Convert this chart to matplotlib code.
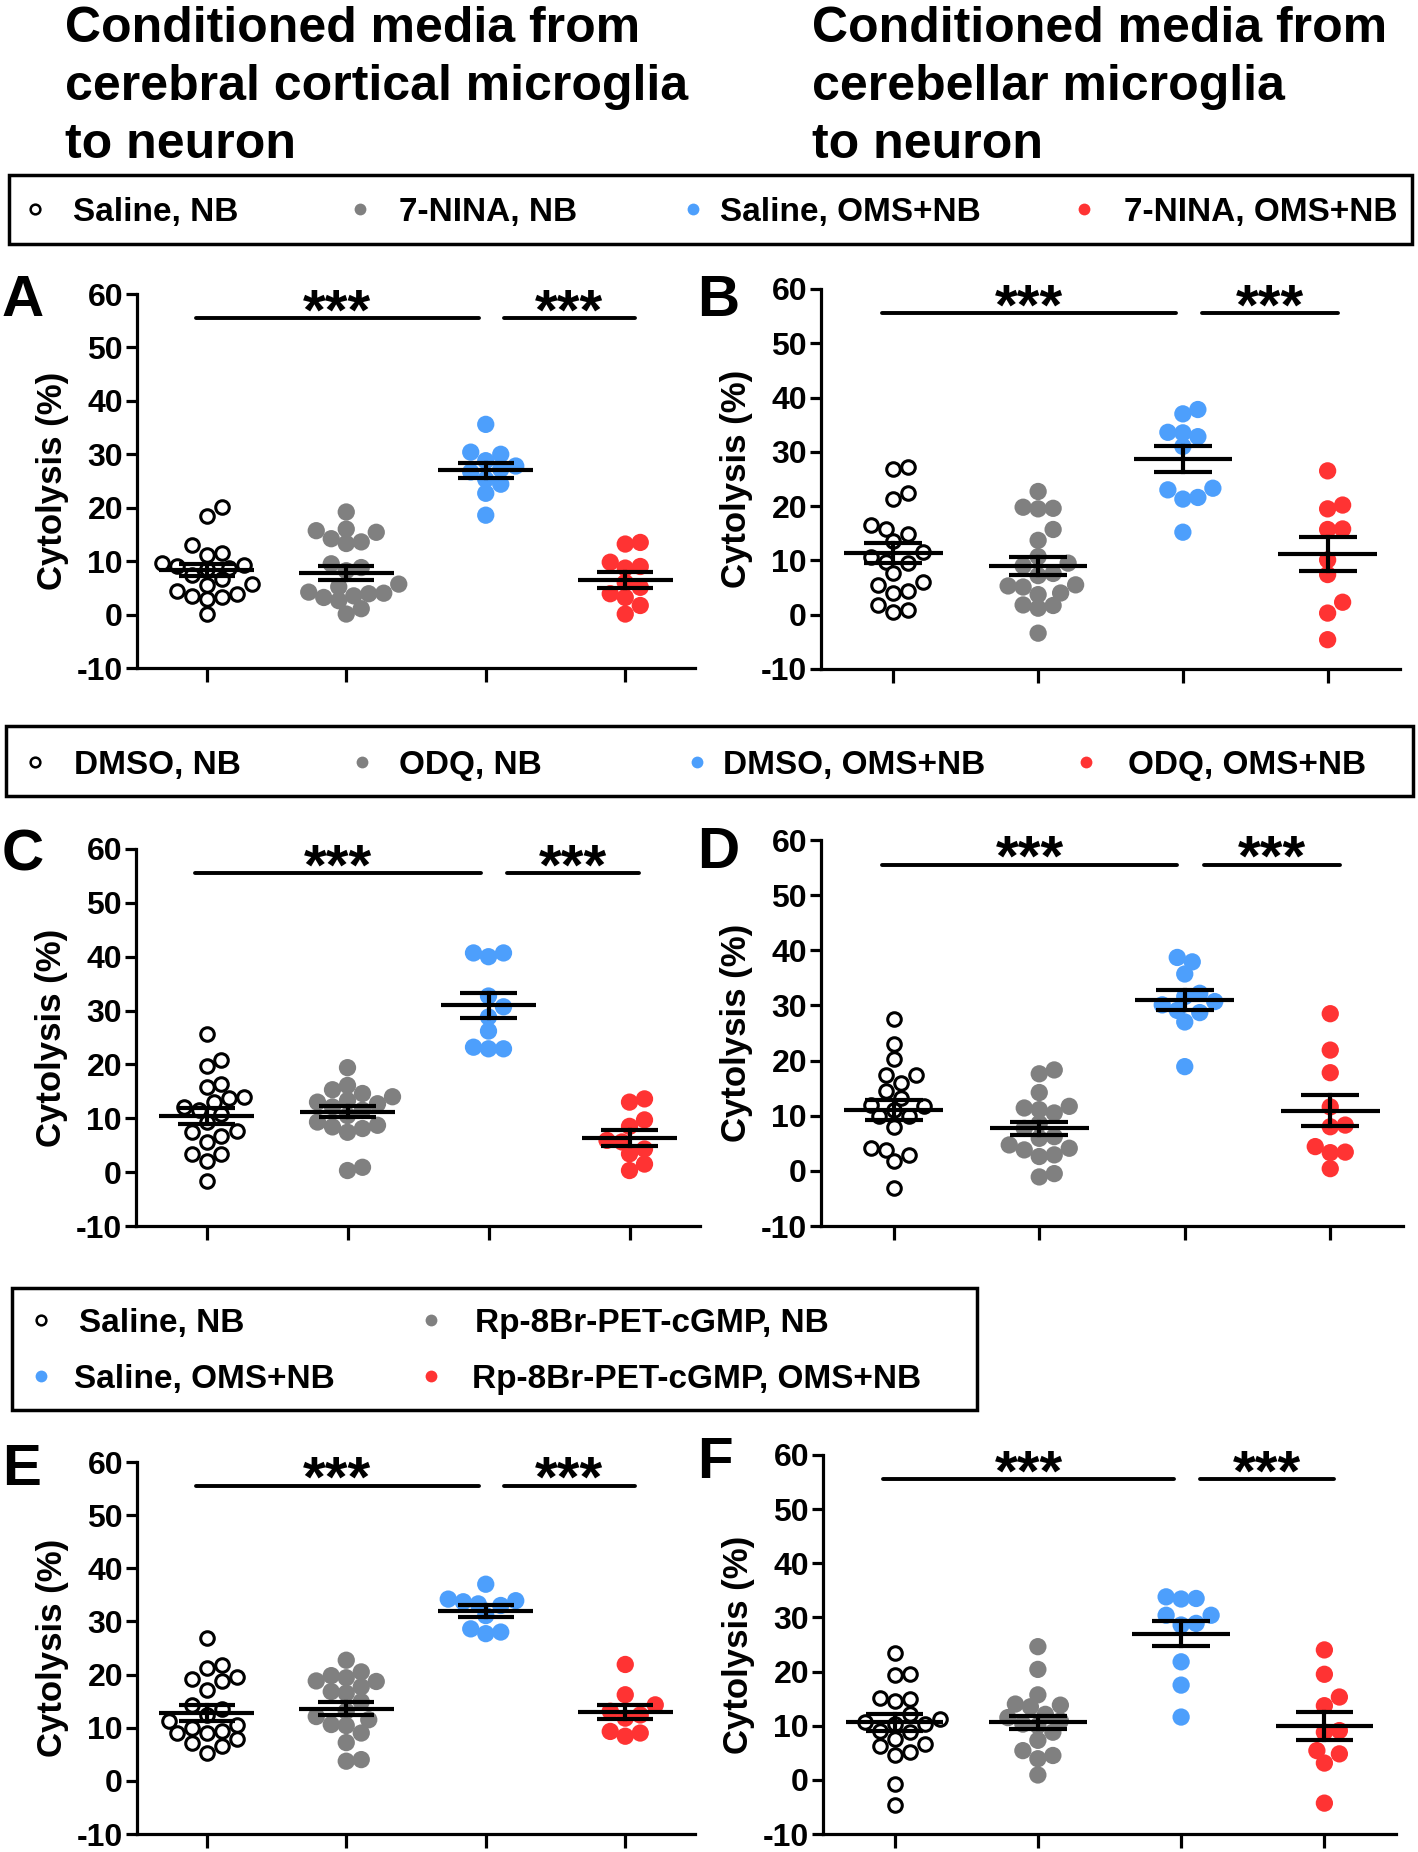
import numpy as np
import matplotlib
matplotlib.use('Agg')
import matplotlib.pyplot as plt
import matplotlib.font_manager as fm
from matplotlib.lines import Line2D
from matplotlib.patches import Rectangle

plt.rcParams['axes.unicode_minus'] = False

# ---- data (Cytolysis %) ----
a_saline_nb = [20.2, 18.4, 13.1, 11.5, 11.1, 9.6, 9.3, 9.0, 8.8, 8.5, 7.5, 6.6, 5.7, 5.5, 4.5, 3.8, 3.5, 3.2, 2.9, 0.1]
a_nina_nb = [19.2, 16.0, 15.7, 15.4, 14.2, 13.6, 13.3, 9.5, 8.8, 8.2, 5.7, 5.2, 4.2, 4.0, 3.9, 3.5, 3.2, 2.6, 1.1, 0.1]
a_saline_oms = [35.6, 30.4, 30.0, 28.8, 27.8, 27.2, 26.7, 25.3, 24.4, 22.7, 18.6]
a_nina_oms = [13.5, 13.2, 9.8, 9.0, 8.7, 6.0, 5.1, 3.9, 3.2, 1.7, 0.1]
a_mean = [8.4, 7.8, 27.0, 6.5]
a_sem = [1.1, 1.3, 1.45, 1.5]

b_saline_nb = [27.2, 26.8, 22.5, 21.3, 16.6, 15.7, 14.9, 13.6, 11.5, 10.7, 9.8, 9.5, 7.7, 6.1, 5.5, 4.3, 4.0, 1.7, 0.9, 0.5]
b_nina_nb = [22.7, 19.8, 19.6, 19.5, 15.7, 13.7, 10.7, 9.5, 9.0, 7.6, 7.2, 5.5, 5.3, 5.1, 4.0, 3.7, 1.8, 1.7, 1.2, -3.4]
b_saline_oms = [37.8, 37.0, 33.6, 33.5, 32.8, 31.0, 23.3, 23.0, 21.6, 21.3, 15.2]
b_nina_oms = [26.5, 20.2, 19.5, 15.8, 15.7, 10.1, 7.4, 2.3, 0.3, -4.6]
b_mean = [11.4, 9.0, 28.7, 11.2]
b_sem = [1.9, 1.6, 2.45, 3.1]

c_dmso_nb = [25.7, 20.8, 19.8, 16.4, 15.8, 13.9, 13.8, 13.0, 12.1, 11.5, 10.8, 9.3, 7.7, 7.4, 6.8, 5.6, 3.4, 3.4, 2.0, -1.7]
c_odq_nb = [19.4, 16.1, 15.3, 14.6, 14.0, 13.3, 13.0, 12.7, 12.1, 11.5, 10.5, 9.3, 8.7, 8.4, 8.1, 7.4, 0.9, 0.3]
c_dmso_oms = [40.7, 40.7, 40.0, 32.7, 30.7, 28.8, 26.2, 23.2, 22.9, 22.9]
c_odq_oms = [13.6, 13.0, 9.7, 8.5, 5.9, 5.6, 4.3, 3.4, 1.5, 0.3]
c_mean = [10.4, 11.2, 31.0, 6.3]
c_sem = [1.45, 1.0, 2.3, 1.45]

d_dmso_nb = [27.5, 23.0, 20.3, 17.4, 17.4, 15.9, 14.4, 13.2, 12.0, 11.7, 11.1, 9.9, 9.9, 8.0, 4.1, 3.8, 2.9, 1.7, -3.1]
d_odq_nb = [18.3, 17.6, 14.2, 11.7, 11.4, 11.1, 10.5, 8.6, 7.7, 6.2, 5.9, 4.7, 4.1, 3.8, 2.9, 2.6, -0.5, -1.1]
d_dmso_oms = [38.7, 37.9, 35.7, 32.2, 31.6, 30.7, 30.1, 29.1, 28.7, 27.0, 18.9]
d_odq_oms = [28.5, 21.9, 17.8, 11.6, 8.3, 8.0, 4.4, 3.4, 3.3, 0.4]
d_mean = [11.0, 7.7, 31.0, 10.9]
d_sem = [1.8, 1.2, 1.8, 2.85]

e_saline_nb = [26.9, 21.8, 21.2, 19.6, 19.2, 18.8, 17.1, 14.3, 13.6, 12.4, 11.2, 10.6, 10.0, 9.3, 9.0, 9.0, 7.8, 7.2, 6.5, 5.3]
e_rp_nb = [22.7, 20.5, 19.8, 19.4, 18.8, 18.7, 17.7, 16.8, 16.5, 14.9, 13.1, 12.1, 11.5, 10.6, 10.4, 9.0, 7.2, 4.0, 3.7]
e_saline_oms = [37.0, 34.2, 33.9, 33.7, 33.3, 33.0, 31.1, 28.6, 28.0, 27.7]
e_rp_oms = [21.9, 16.2, 14.3, 13.1, 12.4, 11.8, 9.3, 9.0, 8.4]
e_mean = [12.8, 13.6, 31.9, 12.9]
e_sem = [1.45, 1.3, 1.1, 1.3]

f_saline_nb = [23.4, 19.5, 19.3, 15.2, 14.9, 14.6, 12.1, 11.2, 10.6, 10.4, 10.3, 9.1, 8.8, 7.6, 6.6, 6.3, 5.1, 4.5, -0.7, -4.6]
f_rp_nb = [24.6, 20.4, 15.7, 14.0, 13.8, 13.5, 12.1, 11.5, 10.9, 10.3, 10.0, 8.8, 7.3, 5.4, 4.5, 3.9, 0.9]
f_saline_oms = [33.8, 33.5, 33.4, 30.4, 30.4, 28.9, 28.6, 21.8, 17.5, 11.6]
f_rp_oms = [24.0, 19.5, 15.3, 13.7, 9.1, 8.8, 5.4, 4.8, 3.1, -4.3]
f_mean = [10.6, 10.6, 27.0, 9.9]
f_sem = [1.5, 1.2, 2.35, 2.55]

legend1 = ['Saline, NB', '7-NINA, NB', 'Saline, OMS+NB', '7-NINA, OMS+NB']
legend2 = ['DMSO, NB', 'ODQ, NB', 'DMSO, OMS+NB', 'ODQ, OMS+NB']
legend3 = ['Saline, NB', 'Rp-8Br-PET-cGMP, NB', 'Saline, OMS+NB', 'Rp-8Br-PET-cGMP, OMS+NB']
title_left = ['Conditioned media from', 'cerebral cortical microglia', 'to neuron']
title_right = ['Conditioned media from', 'cerebellar microglia', 'to neuron']
yticks = [-10, 0, 10, 20, 30, 40, 50, 60]

GRAY = '#808080'
BLUE = '#4d9ffc'
RED = '#ff3333'


def pick_font(names):
    for n in names:
        try:
            fm.findfont(fm.FontProperties(family=n), fallback_to_default=False)
            return n
        except Exception:
            pass
    return 'DejaVu Sans'


FONT = pick_font(['Liberation Sans Narrow', 'Liberation Sans', 'Arimo', 'DejaVu Sans'])
WIDE = pick_font(['Liberation Sans', 'Arimo', 'DejaVu Sans'])

W, H = 1418, 1852
fig = plt.figure(figsize=(W / 100, H / 100), dpi=100)


def fx(x):
    return x / W


def fy(y):
    return 1 - y / H


def swarm_x(ax, xc, vals, d):
    # simple beeswarm in pixel space, steps of half a marker diameter
    pts = ax.transData.transform(np.column_stack([np.full(len(vals), xc), vals]))
    order = np.argsort(pts[:, 1])
    placed = []
    xs = np.zeros(len(vals))
    offs = [0.0]
    for k in range(1, 30):
        offs += [k * 0.5 * d, -k * 0.5 * d]
    for i in order:
        px, py = pts[i]
        for o in offs:
            cx = px + o
            if all((cx - qx) ** 2 + (py - qy) ** 2 >= (0.9 * d) ** 2 for qx, qy in placed):
                break
        placed.append((cx, py))
        xs[i] = ax.transData.inverted().transform((cx, py))[0]
    return xs


def panel(box, letter, letter_xy, series, means, sems):
    x0, y0, x1, y1 = box
    ax = fig.add_axes([fx(x0), fy(y1), fx(x1 - x0), (y1 - y0) / H])
    ax.set_xlim(0.5, 4.5)
    ax.set_ylim(-10, 60)
    for s in ['top', 'right']:
        ax.spines[s].set_visible(False)
    for s in ['left', 'bottom']:
        ax.spines[s].set_linewidth(2.3)
    ax.set_xticks([1, 2, 3, 4])
    ax.set_yticks(yticks)
    ax.tick_params(axis='y', length=8, width=2.3, pad=2, labelsize=23)
    ax.tick_params(axis='x', length=10, width=2.3, labelbottom=False)
    for lab in ax.get_yticklabels():
        lab.set_fontfamily(FONT)
        lab.set_fontweight('bold')
    ax.set_ylabel('Cytolysis (%)', fontsize=25, fontweight='bold', family=WIDE)
    ax.yaxis.set_label_coords(-68 / (x1 - x0), 0.5)

    styles = [dict(facecolor='white', edgecolor='black', linewidths=2.2, s=95),
              dict(facecolor=GRAY, edgecolor='none', s=155),
              dict(facecolor=BLUE, edgecolor='none', s=155),
              dict(facecolor=RED, edgecolor='none', s=155)]
    for i, (vals, st) in enumerate(zip(series, styles)):
        xs = swarm_x(ax, i + 1, vals, 15.0)
        ax.scatter(xs, vals, zorder=3, clip_on=False, **st)
    for i, (m, e) in enumerate(zip(means, sems)):
        xc = i + 1
        ax.plot([xc - 0.34, xc + 0.34], [m, m], color='black', lw=3, zorder=5, solid_capstyle='butt')
        ax.plot([xc - 0.2, xc + 0.2], [m + e, m + e], color='black', lw=3, zorder=5, solid_capstyle='butt')
        ax.plot([xc - 0.2, xc + 0.2], [m - e, m - e], color='black', lw=3, zorder=5, solid_capstyle='butt')
        ax.plot([xc, xc], [m - e, m + e], color='black', lw=3, zorder=5)

    for a, b in [(0.92, 2.95), (3.13, 4.07)]:
        ax.plot([a, b], [55.5, 55.5], color='black', lw=2.8, solid_capstyle='round', clip_on=False)
        ax.annotate('***', xy=((a + b) / 2, 55.5), xytext=(0, -8), textcoords='offset points',
                    ha='center', va='baseline', fontsize=42, fontweight='bold', family=FONT,
                    annotation_clip=False)
    fig.text(fx(letter_xy[0]), fy(letter_xy[1]), letter, fontsize=42, fontweight='bold',
             family=FONT, va='baseline', ha='left')
    return ax


def legend_box(x0, y0, x1, y1):
    fig.add_artist(Rectangle((fx(x0), fy(y1)), fx(x1 - x0), (y1 - y0) / H,
                             transform=fig.transFigure, fill=False, lw=2.5, ec='black'))


def legend_item(mx, tx, y, label, kind):
    if kind == 0:
        m = Line2D([fx(mx)], [fy(y)], marker='o', ms=7, mfc='white', mec='black', mew=1.8,
                   transform=fig.transFigure)
    else:
        m = Line2D([fx(mx)], [fy(y)], marker='o', ms=8.5, mfc=[GRAY, BLUE, RED][kind - 1],
                   mec='none', transform=fig.transFigure)
    fig.add_artist(m)
    fig.text(fx(tx), fy(y), label, fontsize=24, fontweight='bold', family=FONT,
             va='center_baseline', ha='left')


# titles
for i, (l, r) in enumerate(zip(title_left, title_right)):
    yb = 42 + i * 58
    fig.text(fx(65), fy(yb), l, fontsize=36, fontweight='bold', family=FONT, va='baseline')
    fig.text(fx(812), fy(yb), r, fontsize=36, fontweight='bold', family=FONT, va='baseline')

# legend 1
legend_box(9, 175, 1412, 244)
for k, (mx, tx) in enumerate([(35, 73), (360, 399), (693, 720), (1084, 1124)]):
    legend_item(mx, tx, 209, legend1[k], k)

# legend 2
legend_box(6, 726, 1413, 796)
for k, (mx, tx) in enumerate([(35, 74), (362, 399), (697, 723), (1086, 1128)]):
    legend_item(mx, tx, 762, legend2[k], k)

# legend 3
legend_box(12, 1288, 977, 1410)
for k, (mx, tx, yy) in enumerate([(41, 79, 1320), (431, 475, 1320), (41, 74, 1376), (431, 472, 1376)]):
    legend_item(mx, tx, yy, legend3[k], k)

panel((137, 294, 695, 668), 'A', (2, 316), [a_saline_nb, a_nina_nb, a_saline_oms, a_nina_oms], a_mean, a_sem)
panel((821, 289, 1400, 669), 'B', (697, 316), [b_saline_nb, b_nina_nb, b_saline_oms, b_nina_oms], b_mean, b_sem)
panel((136, 849, 700, 1226), 'C', (2, 871), [c_dmso_nb, c_odq_nb, c_dmso_oms, c_odq_oms], c_mean, c_sem)
panel((821, 840, 1403, 1226), 'D', (697, 868), [d_dmso_nb, d_odq_nb, d_dmso_oms, d_odq_oms], d_mean, d_sem)
panel((137, 1462, 695, 1834), 'E', (2, 1485), [e_saline_nb, e_rp_nb, e_saline_oms, e_rp_oms], e_mean, e_sem)
panel((823, 1455, 1396, 1834), 'F', (697, 1478), [f_saline_nb, f_rp_nb, f_saline_oms, f_rp_oms], f_mean, f_sem)

fig.savefig('out.png', dpi=100)
